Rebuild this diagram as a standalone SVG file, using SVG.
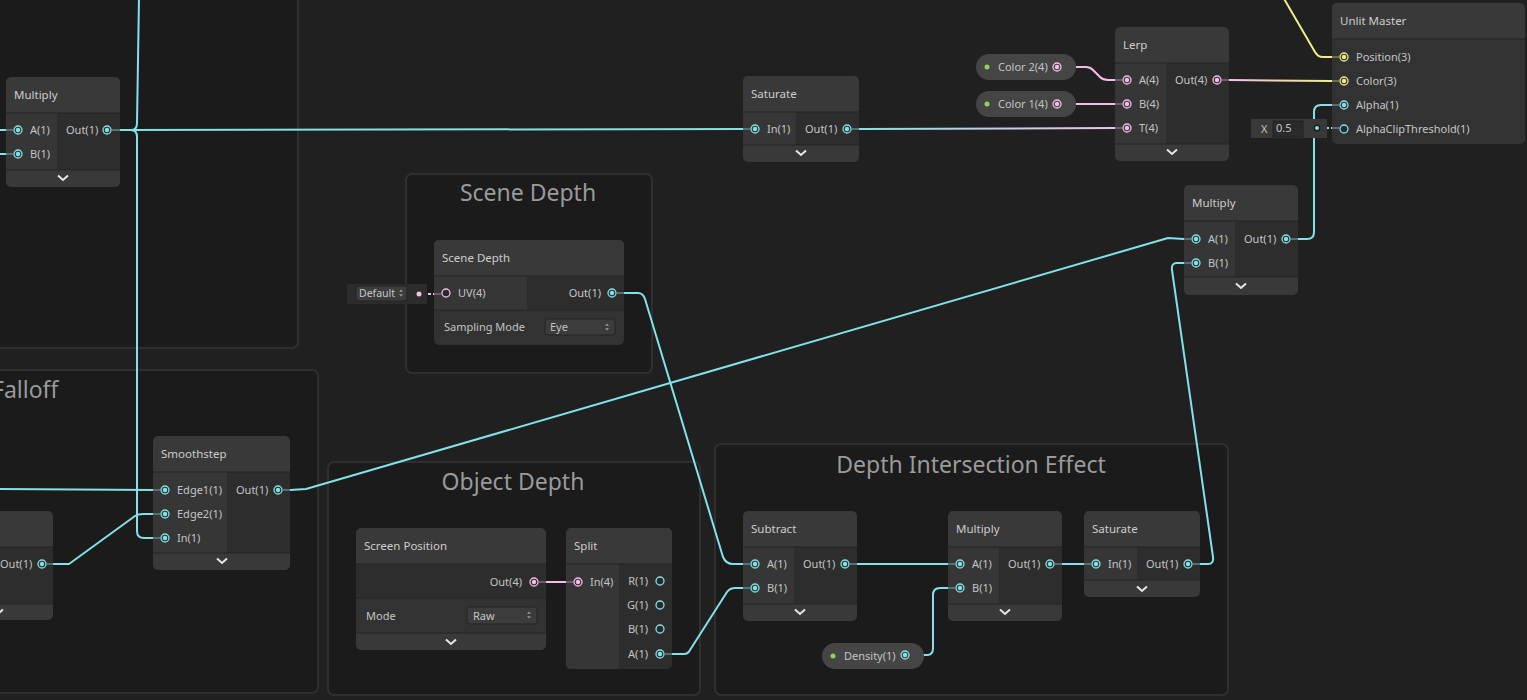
<svg xmlns="http://www.w3.org/2000/svg" width="1527" height="700" viewBox="0 0 1527 700">
<defs>
<style>
.grp{fill:#1b1b1b;stroke:#2f2f2f;stroke-width:2}
.gt{font-family:"Noto Sans","Open Sans",sans-serif;font-size:23px;fill:#9a9a9a;text-anchor:middle}
.hd{fill:#393939}
.bd{fill:#2d2d2d}
.ic{fill:#363636}
.r2{fill:#323232}
.dv{stroke:#252525;stroke-width:1.2}
.t{font-family:"Noto Sans","Open Sans",sans-serif;font-size:11.5px;fill:#cdcdcd}
.l{font-family:"Noto Sans","Open Sans",sans-serif;font-size:11px;fill:#c4c4c4}
.e{text-anchor:end}
.w{fill:none;stroke-width:2;stroke-linejoin:round;stroke-linecap:round}
.c{stroke:#82e2e7}
.p{stroke:#f5bde8}
.y{stroke:#edee86}
.sc{stroke:#557072;stroke-width:2}
.sp{stroke:#6f5a69;stroke-width:2}
.sy{stroke:#6c6c4e;stroke-width:2}
.chev{fill:none;stroke:#e6e6e6;stroke-width:2}
.pill{fill:#454545}
.gd{fill:#8fd35b}
.dd{fill:#3c3c3c;stroke:#242424;stroke-width:1}
.pan{fill:#2b2b2b}
</style>
<g id="pcf"><circle r="4" fill="none" stroke="#82e2e7" stroke-width="1.3"/><circle r="2.2" fill="#82e2e7"/></g>
<g id="pch"><circle r="4" fill="#2a2a2a" stroke="#82e2e7" stroke-width="1.3"/></g>
<g id="ppf"><circle r="4" fill="none" stroke="#f5bde8" stroke-width="1.3"/><circle r="2.2" fill="#f5bde8"/></g>
<g id="pph"><circle r="4" fill="#2a2a2a" stroke="#f5bde8" stroke-width="1.3"/></g>
<g id="pyf"><circle r="4" fill="none" stroke="#edee86" stroke-width="1.3"/><circle r="2.2" fill="#edee86"/></g>
<path id="chv" d="M-5,-2.5 L0,2 L5,-2.5" class="chev"/>
<path id="ud" d="M-2.5,-1.5 L0,-4.5 L2.5,-1.5 Z M-2.5,1.5 L0,4.5 L2.5,1.5 Z" fill="#9a9a9a"/>
<linearGradient id="gcp" gradientUnits="userSpaceOnUse" x1="859" y1="0" x2="1115" y2="0"><stop offset="0" stop-color="#82e2e7"/><stop offset="1" stop-color="#f5bde8"/></linearGradient>
<linearGradient id="gpy" gradientUnits="userSpaceOnUse" x1="1229" y1="0" x2="1332" y2="0"><stop offset="0" stop-color="#f5bde8"/><stop offset="1" stop-color="#edee86"/></linearGradient>
</defs>
<rect width="1527" height="700" fill="#202020"/>

<g id="groups">
<g id="group-topleft"><rect x="-10" y="-10" width="308" height="358" rx="6" class="grp"/></g>
<g id="group-falloff"><rect x="-10" y="370" width="328" height="323" rx="6" class="grp"/><text x="-8" y="398" class="gt" style="text-anchor:start">Falloff</text></g>
<g id="group-scenedepth"><rect x="406" y="174" width="246" height="199" rx="6" class="grp"/><text x="528" y="201" class="gt">Scene Depth</text></g>
<g id="group-objectdepth"><rect x="328" y="462" width="372" height="233" rx="6" class="grp"/><text x="513" y="490" class="gt">Object Depth</text></g>
<g id="group-depthintersection"><rect x="715" y="444" width="513" height="251" rx="6" class="grp"/><text x="971" y="473" class="gt">Depth Intersection Effect</text></g>
</g>

<g id="connectors">
<path class="w c" d="M-2,130 L6,130"/>
<path class="w c" d="M-2,154 L6,154"/>
<path class="w c" d="M120,130 L743,129"/>
<path class="w c" d="M120,130 L131,130 Q137,130 137,123 L139,-3"/>
<path class="w c" d="M131,130 Q137,130 137,137 L137,531 Q137,538 144,538 L153,538"/>
<path class="w c" d="M-2,489 L153,490"/>
<path class="w c" d="M53,564 L69,564 L135,516 Q138,514 143,514 L153,514"/>
<path class="w c" d="M290,490 L306,489 L1168,238 L1184,239"/>
<path class="w c" d="M624,293 L638,293 Q643,293 645,299 L723,557 Q726,564 733,564 L743,564"/>
<path class="w c" d="M672,654 L684,654 Q688,654 690,650 L727,592 Q730,588 735,588 L743,588"/>
<path class="w c" d="M857,564 L948,564"/>
<path class="w c" d="M924,655 L927,655 Q933,655 933,648 L933,595 Q933,588 940,588 L948,588"/>
<path class="w c" d="M1062,564 L1084,564"/>
<path class="w c" d="M1200,564 L1208,564 Q1214,564 1213,557 L1172,270 Q1171,263 1177,263 L1184,263"/>
<path class="w c" d="M1298,239 L1307,239 Q1314,239 1314,232 L1314,112 Q1314,105 1321,105 L1332,105"/>
<path class="w p" d="M1076,67 L1086,67 Q1090,67 1093,70 L1100,77 Q1103,80 1108,80 L1115,80"/>
<path class="w p" d="M1076,104 L1115,104"/>
<path class="w" stroke="url(#gcp)" d="M859,129 L1115,128"/>
<path class="w" stroke="url(#gpy)" d="M1229,80 L1332,81"/>
<path class="w y" d="M1283,-3 L1315,52 Q1318,57 1323,57 L1332,57"/>
<path class="w p" d="M546,582 L566,582"/>
<path fill="none" stroke="#f5bde8" stroke-width="2" stroke-dasharray="3,2" d="M423,294 L440,294"/>
<path fill="none" stroke="#82e2e7" stroke-width="2" stroke-dasharray="3,2" d="M1321,128 L1338,128"/>
</g>

<g id="node-multiply-topleft">
<rect x="6" y="77" width="114" height="110" rx="5" class="hd"/>
<rect x="6" y="113" width="114" height="57" class="bd"/>
<rect x="6" y="113" width="51" height="57" class="ic"/>
<line x1="6" y1="113" x2="120" y2="113" class="dv"/><line x1="6" y1="170" x2="120" y2="170" class="dv"/>
<text x="14" y="99" class="t">Multiply</text>
<line x1="6" y1="130" x2="13" y2="130" class="sc"/><line x1="6" y1="154" x2="13" y2="154" class="sc"/><line x1="112" y1="130" x2="120" y2="130" class="sc"/>
<use href="#pcf" x="18" y="130"/><use href="#pcf" x="18" y="154"/><use href="#pcf" x="107" y="130"/>
<text x="30" y="134" class="l">A(1)</text><text x="30" y="158" class="l">B(1)</text><text x="66" y="134" class="l">Out(1)</text>
<use href="#chv" x="63" y="178"/>
</g>

<g id="node-saturate-top">
<rect x="743" y="76" width="116" height="86" rx="5" class="hd"/>
<rect x="743" y="112" width="116" height="33" class="bd"/>
<rect x="743" y="112" width="53" height="33" class="ic"/>
<line x1="743" y1="112" x2="859" y2="112" class="dv"/><line x1="743" y1="145" x2="859" y2="145" class="dv"/>
<text x="751" y="98" class="t">Saturate</text>
<line x1="743" y1="129" x2="750" y2="129" class="sc"/><line x1="852" y1="129" x2="859" y2="129" class="sc"/>
<use href="#pcf" x="755" y="129"/><use href="#pcf" x="847" y="129"/>
<text x="767" y="133" class="l">In(1)</text><text x="805" y="133" class="l">Out(1)</text>
<use href="#chv" x="801" y="153"/>
</g>

<g id="node-color2">
<rect x="976" y="54" width="100" height="26" rx="13" class="pill"/>
<circle cx="987" cy="67" r="2.5" class="gd"/>
<text x="998" y="71" class="l">Color 2(4)</text>
<use href="#ppf" x="1057" y="67"/>
</g>
<g id="node-color1">
<rect x="976" y="91" width="100" height="26" rx="13" class="pill"/>
<circle cx="987" cy="104" r="2.5" class="gd"/>
<text x="998" y="108" class="l">Color 1(4)</text>
<use href="#ppf" x="1057" y="104"/>
</g>

<g id="node-lerp">
<rect x="1115" y="27" width="114" height="134" rx="5" class="hd"/>
<rect x="1115" y="63" width="114" height="81" class="bd"/>
<rect x="1115" y="63" width="51" height="81" class="ic"/>
<line x1="1115" y1="63" x2="1229" y2="63" class="dv"/><line x1="1115" y1="144" x2="1229" y2="144" class="dv"/>
<text x="1123" y="49" class="t">Lerp</text>
<line x1="1115" y1="80" x2="1122" y2="80" class="sp"/><line x1="1115" y1="104" x2="1122" y2="104" class="sp"/><line x1="1115" y1="128" x2="1122" y2="128" class="sp"/><line x1="1222" y1="80" x2="1229" y2="80" class="sp"/>
<use href="#ppf" x="1127" y="80"/><use href="#ppf" x="1127" y="104"/><use href="#ppf" x="1127" y="128"/><use href="#ppf" x="1217" y="80"/>
<text x="1139" y="84" class="l">A(4)</text><text x="1139" y="108" class="l">B(4)</text><text x="1139" y="132" class="l">T(4)</text><text x="1175" y="84" class="l">Out(4)</text>
<use href="#chv" x="1172" y="152"/>
</g>

<g id="node-unlit-master">
<rect x="1332" y="3" width="193" height="141" rx="5" fill="#323232"/>
<rect x="1332" y="3" width="193" height="36" rx="5" class="hd"/>
<rect x="1332" y="25" width="193" height="14" class="hd"/>
<line x1="1332" y1="39" x2="1525" y2="39" class="dv"/>
<text x="1340" y="25" class="t">Unlit Master</text>
<line x1="1332" y1="57" x2="1339" y2="57" class="sy"/><line x1="1332" y1="81" x2="1339" y2="81" class="sy"/><line x1="1332" y1="105" x2="1339" y2="105" class="sc"/><line x1="1332" y1="128" x2="1339" y2="128" class="sc"/>
<use href="#pyf" x="1344" y="57"/><use href="#pyf" x="1344" y="81"/><use href="#pcf" x="1344" y="105"/><use href="#pch" x="1344" y="129"/>
<text x="1356" y="61" class="l">Position(3)</text><text x="1356" y="85" class="l">Color(3)</text><text x="1356" y="109" class="l">Alpha(1)</text><text x="1356" y="133" class="l">AlphaClipThreshold(1)</text>
</g>

<g id="inline-alphaclip">
<rect x="1251" y="119" width="76" height="19" fill="#393939"/>
<rect x="1273" y="121" width="30" height="16" fill="#2a2a2a" stroke="#232323"/>
<text x="1261" y="133" class="l" fill="#bbbbbb">X</text>
<text x="1276" y="132" class="l">0.5</text>
<circle cx="1317" cy="128" r="3.5" fill="#1e1e1e"/>
<circle cx="1317" cy="128" r="2" fill="#82e2e7"/>
</g>

<g id="node-multiply-right">
<rect x="1184" y="185" width="114" height="110" rx="5" class="hd"/>
<rect x="1184" y="221" width="114" height="56" class="bd"/>
<rect x="1184" y="221" width="51" height="56" class="ic"/>
<line x1="1184" y1="221" x2="1298" y2="221" class="dv"/><line x1="1184" y1="277" x2="1298" y2="277" class="dv"/>
<text x="1192" y="207" class="t">Multiply</text>
<line x1="1184" y1="239" x2="1191" y2="239" class="sc"/><line x1="1184" y1="263" x2="1191" y2="263" class="sc"/><line x1="1291" y1="239" x2="1298" y2="239" class="sc"/>
<use href="#pcf" x="1196" y="239"/><use href="#pcf" x="1196" y="263"/><use href="#pcf" x="1286" y="239"/>
<text x="1208" y="243" class="l">A(1)</text><text x="1208" y="267" class="l">B(1)</text><text x="1244" y="243" class="l">Out(1)</text>
<use href="#chv" x="1241" y="286"/>
</g>

<g id="inline-default">
<rect x="347" y="284" width="80" height="20" fill="#2c2c2c"/>
<rect x="356" y="286" width="51" height="15" rx="3" class="dd"/>
<text x="359" y="297" class="l" style="font-size:10.5px">Default</text>
<use href="#ud" x="401" y="293" transform="translate(401 293) scale(0.8) translate(-401 -293)"/>
<circle cx="419" cy="294" r="2.5" fill="#f5bde8"/>
</g>

<g id="node-scene-depth">
<rect x="434" y="240" width="190" height="105" rx="5" class="r2"/>
<rect x="434" y="240" width="190" height="36" rx="5" class="hd"/>
<rect x="434" y="260" width="190" height="16" class="hd"/>
<rect x="434" y="276" width="190" height="34" class="bd"/>
<rect x="434" y="276" width="93" height="34" class="ic"/>
<line x1="434" y1="276" x2="624" y2="276" class="dv"/><line x1="434" y1="310" x2="624" y2="310" class="dv"/>
<text x="442" y="262" class="t">Scene Depth</text>
<line x1="434" y1="294" x2="441" y2="294" class="sp"/><line x1="617" y1="293" x2="624" y2="293" class="sc"/>
<use href="#pph" x="446" y="293"/><use href="#pcf" x="612" y="293"/>
<text x="458" y="297" class="l">UV(4)</text><text x="601" y="297" class="l e">Out(1)</text>
<text x="444" y="331" class="l">Sampling Mode</text>
<rect x="545" y="319" width="70" height="16" rx="3" class="dd"/>
<text x="550" y="331" class="l">Eye</text>
<use href="#ud" x="0" y="0" transform="translate(607 327) scale(0.8)"/>
</g>

<g id="node-left-partial">
<rect x="-10" y="511" width="63" height="109" rx="5" class="hd"/>
<rect x="-10" y="547" width="63" height="57" class="bd"/>
<line x1="-10" y1="547" x2="53" y2="547" class="dv"/><line x1="-10" y1="604" x2="53" y2="604" class="dv"/>
<line x1="47" y1="564" x2="53" y2="564" class="sc"/>
<use href="#pcf" x="42" y="564"/>
<text x="0" y="568" class="l">Out(1)</text>
<use href="#chv" x="-2" y="612"/>
</g>

<g id="node-smoothstep">
<rect x="153" y="436" width="137" height="134" rx="5" class="hd"/>
<rect x="153" y="472" width="137" height="81" class="bd"/>
<rect x="153" y="472" width="74" height="81" class="ic"/>
<line x1="153" y1="472" x2="290" y2="472" class="dv"/><line x1="153" y1="553" x2="290" y2="553" class="dv"/>
<text x="161" y="458" class="t">Smoothstep</text>
<line x1="153" y1="490" x2="160" y2="490" class="sc"/><line x1="153" y1="514" x2="160" y2="514" class="sc"/><line x1="153" y1="538" x2="160" y2="538" class="sc"/><line x1="283" y1="490" x2="290" y2="490" class="sc"/>
<use href="#pcf" x="165" y="490"/><use href="#pcf" x="165" y="514"/><use href="#pcf" x="165" y="538"/><use href="#pcf" x="278" y="490"/>
<text x="177" y="494" class="l">Edge1(1)</text><text x="177" y="518" class="l">Edge2(1)</text><text x="177" y="542" class="l">In(1)</text><text x="236" y="494" class="l">Out(1)</text>
<use href="#chv" x="222" y="561"/>
</g>

<g id="node-screen-position">
<rect x="356" y="528" width="190" height="122" rx="5" class="hd"/>
<rect x="356" y="564" width="190" height="34" class="bd"/>
<rect x="356" y="598" width="190" height="35" class="r2"/>
<line x1="356" y1="564" x2="546" y2="564" class="dv"/><line x1="356" y1="598" x2="546" y2="598" class="dv"/><line x1="356" y1="633" x2="546" y2="633" class="dv"/>
<text x="364" y="550" class="t">Screen Position</text>
<line x1="539" y1="582" x2="546" y2="582" class="sp"/>
<use href="#ppf" x="534" y="582"/>
<text x="522" y="586" class="l e">Out(4)</text>
<text x="366" y="620" class="l">Mode</text>
<rect x="467" y="607" width="70" height="17" rx="3" class="dd"/>
<text x="473" y="620" class="l">Raw</text>
<use href="#ud" x="0" y="0" transform="translate(529 615) scale(0.8)"/>
<use href="#chv" x="451" y="642"/>
</g>

<g id="node-split">
<rect x="566" y="528" width="106" height="141" rx="5" class="bd"/>
<rect x="566" y="528" width="106" height="36" rx="5" class="hd"/>
<rect x="566" y="550" width="106" height="14" class="hd"/>
<path d="M566,564 H619 V669 H571 Q566,669 566,664 Z" class="ic"/>
<line x1="566" y1="564" x2="672" y2="564" class="dv"/>
<text x="574" y="550" class="t">Split</text>
<line x1="566" y1="582" x2="573" y2="582" class="sp"/><line x1="665" y1="654" x2="672" y2="654" class="sc"/>
<use href="#ppf" x="578" y="582"/>
<text x="590" y="586" class="l">In(4)</text>
<use href="#pch" x="660" y="581"/><use href="#pch" x="660" y="605"/><use href="#pch" x="660" y="629"/><use href="#pcf" x="660" y="654"/>
<text x="648" y="585" class="l e">R(1)</text><text x="648" y="609" class="l e">G(1)</text><text x="648" y="633" class="l e">B(1)</text><text x="648" y="658" class="l e">A(1)</text>
</g>

<g id="node-subtract">
<rect x="743" y="511" width="114" height="110" rx="5" class="hd"/>
<rect x="743" y="547" width="114" height="57" class="bd"/>
<rect x="743" y="547" width="51" height="57" class="ic"/>
<line x1="743" y1="547" x2="857" y2="547" class="dv"/><line x1="743" y1="604" x2="857" y2="604" class="dv"/>
<text x="751" y="533" class="t">Subtract</text>
<line x1="743" y1="564" x2="750" y2="564" class="sc"/><line x1="743" y1="588" x2="750" y2="588" class="sc"/><line x1="850" y1="564" x2="857" y2="564" class="sc"/>
<use href="#pcf" x="755" y="564"/><use href="#pcf" x="755" y="588"/><use href="#pcf" x="845" y="564"/>
<text x="767" y="568" class="l">A(1)</text><text x="767" y="592" class="l">B(1)</text><text x="803" y="568" class="l">Out(1)</text>
<use href="#chv" x="800" y="612"/>
</g>

<g id="node-multiply-mid">
<rect x="948" y="511" width="114" height="110" rx="5" class="hd"/>
<rect x="948" y="547" width="114" height="57" class="bd"/>
<rect x="948" y="547" width="51" height="57" class="ic"/>
<line x1="948" y1="547" x2="1062" y2="547" class="dv"/><line x1="948" y1="604" x2="1062" y2="604" class="dv"/>
<text x="956" y="533" class="t">Multiply</text>
<line x1="948" y1="564" x2="955" y2="564" class="sc"/><line x1="948" y1="588" x2="955" y2="588" class="sc"/><line x1="1055" y1="564" x2="1062" y2="564" class="sc"/>
<use href="#pcf" x="960" y="564"/><use href="#pcf" x="960" y="588"/><use href="#pcf" x="1050" y="564"/>
<text x="972" y="568" class="l">A(1)</text><text x="972" y="592" class="l">B(1)</text><text x="1008" y="568" class="l">Out(1)</text>
<use href="#chv" x="1005" y="612"/>
</g>

<g id="node-saturate-bottom">
<rect x="1084" y="511" width="116" height="86" rx="5" class="hd"/>
<rect x="1084" y="547" width="116" height="33" class="bd"/>
<rect x="1084" y="547" width="53" height="33" class="ic"/>
<line x1="1084" y1="547" x2="1200" y2="547" class="dv"/><line x1="1084" y1="580" x2="1200" y2="580" class="dv"/>
<text x="1092" y="533" class="t">Saturate</text>
<line x1="1084" y1="564" x2="1091" y2="564" class="sc"/><line x1="1193" y1="564" x2="1200" y2="564" class="sc"/>
<use href="#pcf" x="1096" y="564"/><use href="#pcf" x="1188" y="564"/>
<text x="1108" y="568" class="l">In(1)</text><text x="1146" y="568" class="l">Out(1)</text>
<use href="#chv" x="1142" y="589"/>
</g>

<g id="node-density">
<rect x="822" y="643" width="102" height="26" rx="13" class="pill"/>
<circle cx="833" cy="656" r="2.5" class="gd"/>
<text x="844" y="660" class="l">Density(1)</text>
<use href="#pcf" x="905" y="655"/>
</g>
</svg>
